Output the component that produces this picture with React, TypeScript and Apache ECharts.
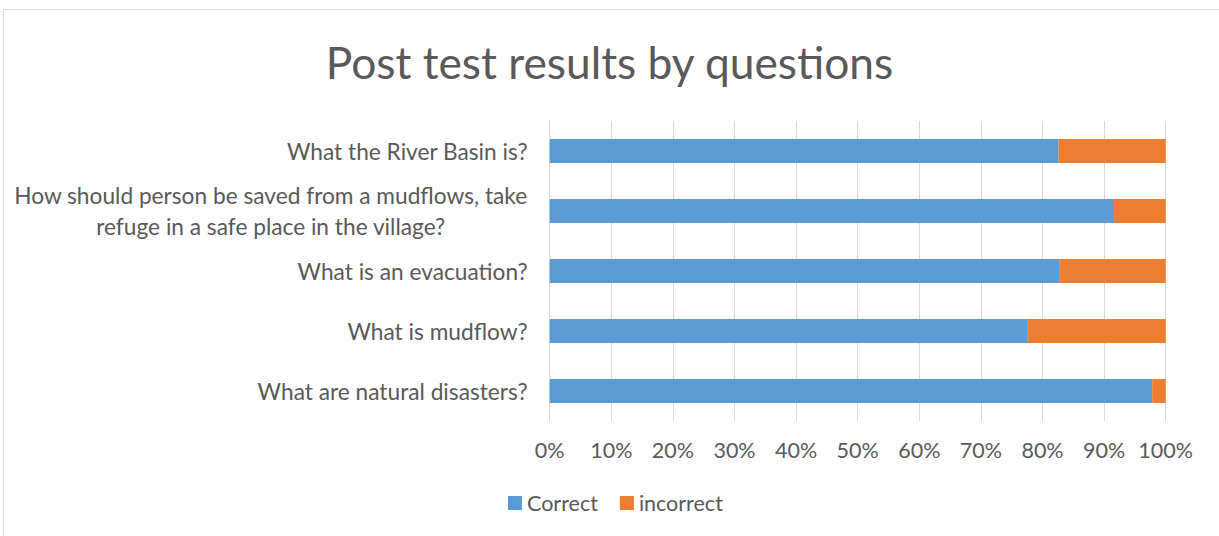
import React, { useEffect, useRef } from "react";
import * as echarts from "echarts";

const questions = [
  "What the River Basin is?",
  "How should person be saved from a mudflows, take\nrefuge in a safe place in the village?",
  "What is an evacuation?",
  "What is mudflow?",
  "What are natural disasters?",
];
const correct = [82.6, 91.6, 82.7, 77.5, 97.8];
const incorrect = [17.4, 8.4, 17.3, 22.5, 2.2];
const seriesNames = ["Correct", "incorrect"];
const titleText = "Post test results by questions";

const FONT = "Lato";
const TXT = "#595959";

export default function App() {
  const ref = useRef<HTMLDivElement>(null);
  useEffect(() => {
    document.body.style.margin = "0";
    const chart = echarts.init(ref.current!, null, { renderer: "svg" });
    chart.setOption({
      animation: false,
      backgroundColor: "#ffffff",
      textStyle: { fontFamily: FONT, color: TXT },
      title: {
        text: titleText,
        left: "center",
        top: 28,
        textStyle: { fontFamily: FONT, fontSize: 44.3, fontWeight: "normal", color: TXT, lineHeight: 56 },
      },
      graphic: [
        {
          type: "rect",
          shape: { x: 3.5, y: 9.5, width: 1240, height: 560 },
          style: { fill: "none", stroke: "#d9d9d9", lineWidth: 1 },
          silent: true,
          z: -1,
        },
      ],
      legend: {
        data: seriesNames,
        left: 503,
        top: 486,
        icon: "rect",
        itemWidth: 14,
        itemHeight: 14,
        itemGap: 22,
        textStyle: { fontFamily: FONT, fontSize: 21.5, color: TXT, lineHeight: 24, padding: [0, 0, 0, 0] },
      },
      grid: { left: 549.7, right: 53.3, top: 121, bottom: 115, containLabel: false },
      xAxis: {
        type: "value",
        min: 0,
        max: 100,
        interval: 10,
        axisLine: { show: false },
        axisTick: { show: false },
        splitLine: { show: true, lineStyle: { color: "#d9d9d9", width: 1 } },
        axisLabel: { formatter: "{value}%", fontFamily: FONT, fontSize: 21.5, color: TXT, margin: 18 },
      },
      yAxis: {
        type: "category",
        data: questions,
        inverse: true,
        axisLine: { show: true, lineStyle: { color: "#d9d9d9", width: 1 } },
        axisTick: { show: false },
        axisLabel: {
          fontFamily: FONT,
          fontSize: 22.7,
          color: TXT,
          margin: 22,
          lineHeight: 31,
          align: "right",
          formatter: (v: string) =>
            v.indexOf("\n") >= 0
              ? v
                  .split("\n")
                  .map((l) => `{c|${l}}`)
                  .join("\n")
              : v,
          rich: {
            c: { width: 514, align: "center", fontFamily: FONT, fontSize: 22.7, color: TXT, lineHeight: 31 },
          },
        },
      },
      series: [
        {
          name: seriesNames[0],
          type: "bar",
          stack: "total",
          data: correct,
          barWidth: 24,
          itemStyle: { color: "#5b9bd5" },
        },
        {
          name: seriesNames[1],
          type: "bar",
          stack: "total",
          data: incorrect,
          barWidth: 24,
          itemStyle: { color: "#ed7d31" },
        },
      ],
    });
    return () => chart.dispose();
  }, []);
  return <div ref={ref} style={{ width: 1219, height: 536 }} />;
}
